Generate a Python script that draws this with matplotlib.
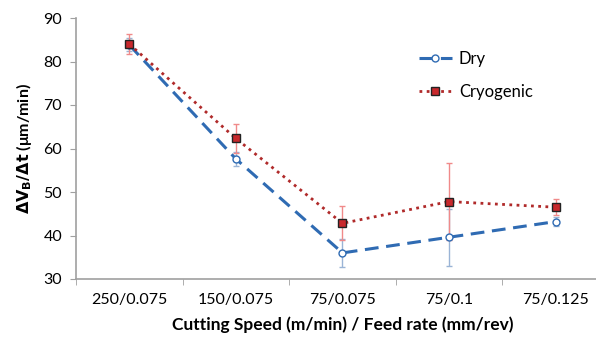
import numpy as np
import matplotlib
matplotlib.use("Agg")
import matplotlib.pyplot as plt

categories = ["250/0.075", "150/0.075", "75/0.075", "75/0.1", "75/0.125"]
dry = [83.8, 57.6, 36.0, 39.6, 43.2]
dry_err = [1.5, 1.6, 3.2, 6.5, 1.0]
cryo = [84.0, 62.3, 42.8, 47.8, 46.5]
cryo_err = [2.3, 3.3, 3.9, 8.8, 1.8]

plt.rcParams['font.family'] = ['Lato', 'DejaVu Sans']

fig = plt.figure(figsize=(5.96, 3.38), dpi=100)
ax = fig.add_axes([76 / 596, 59 / 338, 533 / 596, 261 / 338])

x = np.arange(len(categories))

ax.errorbar(x, dry, yerr=dry_err, fmt='none', ecolor='#9ab4d6', elinewidth=1,
            capsize=2.5, capthick=1, zorder=2)
ax.errorbar(x, cryo, yerr=cryo_err, fmt='none', ecolor='#f08a8a', elinewidth=1,
            capsize=2.5, capthick=1, zorder=2)
ax.plot(x, dry, color='#2f6bb3', linestyle=(0, (4.5, 2.5)), linewidth=2.2,
        marker='o', markersize=5, markerfacecolor='white',
        markeredgecolor='#2f6bb3', markeredgewidth=1, label='Dry', zorder=3)
ax.plot(x, cryo, color='#b02a2a', linestyle=(0, (1, 1.6)), linewidth=2,
        marker='s', markersize=5.2, markerfacecolor='#c8282c',
        markeredgecolor='#222222', markeredgewidth=1, label='Cryogenic', zorder=4)

ax.set_xlim(-0.5, 4.5)
ax.set_ylim(30, 90)
ax.set_yticks(range(30, 91, 10))
ax.set_xticks(x)
ax.set_xticklabels(categories)
ax.set_xticks(np.arange(-0.5, 5, 1), minor=True)
ax.tick_params(axis='x', which='major', length=0, pad=10, labelsize=11.5)
ax.tick_params(axis='x', which='minor', length=4, color='#a0a0a0')
ax.tick_params(axis='y', length=4, color='#a0a0a0', labelsize=11.5, pad=6)

for side in ['top', 'right']:
    ax.spines[side].set_visible(False)
for side in ['left', 'bottom']:
    ax.spines[side].set_color('#a0a0a0')
    ax.spines[side].set_linewidth(1.2)

ax.set_xlabel('Cutting Speed (m/min) / Feed rate (mm/rev)', fontsize=12.5,
              fontweight='bold', labelpad=7)
ax.set_ylabel(r'$\mathbf{\Delta V_B/\Delta t}$ (μm/min)', fontsize=11.5,
              fontweight='bold', labelpad=7)

ax.legend(loc='upper left', bbox_to_anchor=(0.615, 0.93), frameon=False,
          fontsize=12, handlelength=2.0, handletextpad=0.4, labelspacing=1.0)

fig.savefig('out.png', dpi=100)
